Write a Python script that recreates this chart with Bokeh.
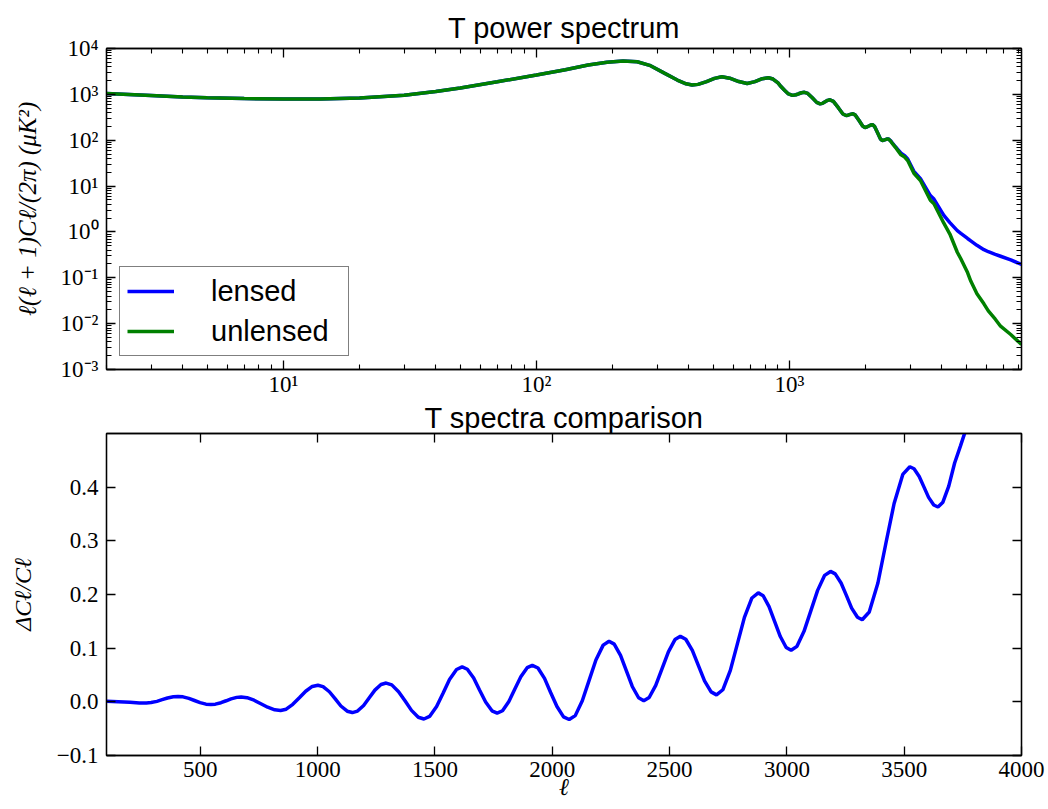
from bokeh.plotting import figure
from bokeh.models import (FixedTicker, CustomJSTickFormatter, LinearAxis, LogAxis,
                          Range1d, Legend, LegendItem)
from bokeh.layouts import column
from bokeh.embed import file_html
from bokeh.resources import INLINE

# ---------------- data ----------------
ell_top = [2, 3, 4, 5, 7, 10, 14, 20, 30, 40, 50, 70, 100, 130, 160, 190, 220, 250,
           280, 320, 360, 390, 412, 435, 470, 505, 540, 580, 630, 680, 730, 780, 825,
           860, 900, 925, 955, 990, 1027, 1060, 1086, 1115, 1145, 1180, 1230, 1280, 1320,
           1350, 1382, 1414, 1444, 1490, 1558, 1625, 1672, 1700, 1726, 1752, 1780, 1820,
           1882, 1944, 1985, 2020, 2056, 2092, 2127, 2165, 2225, 2285, 2322, 2356, 2390,
           2424, 2458, 2510, 2560, 2620, 2675, 2757, 2850, 2930, 3100, 3290, 3600, 3720,
           4070, 4300, 4600, 4750, 5050, 5200, 5500, 5860, 6100, 6500, 6820, 7480, 8250]
unlensed = [1050, 950, 880, 840, 810, 795, 795, 830, 960, 1150, 1380, 1880, 2650, 3450,
            4350, 5000, 5350, 5150, 4300, 2900, 2050, 1700, 1600, 1650, 1900, 2230, 2420,
            2250, 1900, 1720, 1900, 2200, 2300, 2160, 1780, 1480, 1230, 1020, 950, 980,
            1030, 1083, 1110, 1047, 840, 668, 620, 636, 687, 740, 760, 703, 512, 373, 345,
            351, 361, 371, 377, 352, 268, 204, 190, 194, 204, 214, 218, 201, 147, 107, 99,
            100, 103, 106, 107, 95, 82, 70, 60, 48, 43, 36, 19, 13.2, 4.9, 4.1, 1.55, 0.9,
            0.36, 0.26, 0.13, 0.085, 0.045, 0.027, 0.019, 0.0125, 0.0088, 0.0058, 0.0035]
lensed = [1050, 950, 880, 840, 810, 795, 795, 830, 960, 1150, 1380, 1880, 2650, 3450,
          4350, 5000, 5350, 5150, 4300, 2900, 2050, 1700, 1600, 1650, 1900, 2230, 2420,
          2250, 1900, 1720, 1900, 2200, 2300, 2160, 1780, 1480, 1230, 1020, 950, 980,
          1030, 1083, 1110, 1047, 840, 668, 620, 636, 687, 740, 760, 703, 512, 373, 345,
          351, 361, 371, 377, 352, 268, 204, 190, 194, 204, 214, 218, 201, 147, 107, 99,
          100, 103, 106, 107, 97, 84, 72, 63, 52, 46, 39, 21, 14.5, 6.2, 5.2, 2.3, 1.6,
          1.07, 0.93, 0.72, 0.64, 0.51, 0.41, 0.37, 0.325, 0.295, 0.245, 0.195]

ell_diff = [100, 150, 200, 240, 270, 290, 315, 337, 360, 385, 405, 426, 451, 475, 499,
            524, 545, 564, 588, 610, 631, 655, 674, 699, 729, 758, 787, 817, 842, 866, 894,
            922, 949, 977, 1001, 1023, 1050, 1075, 1099, 1126, 1148, 1170, 1196, 1220, 1244,
            1270, 1292, 1316, 1345, 1373, 1400, 1429, 1453, 1477, 1507, 1535, 1562, 1592,
            1616, 1638, 1665, 1690, 1716, 1743, 1765, 1788, 1815, 1840, 1866, 1893, 1915,
            1939, 1967, 1993, 2020, 2048, 2072, 2098, 2128, 2157, 2186, 2217, 2242, 2264,
            2291, 2316, 2341, 2368, 2390, 2413, 2441, 2468, 2495, 2523, 2546, 2569, 2597,
            2623, 2649, 2677, 2700, 2727, 2759, 2789, 2819, 2851, 2878, 2899, 2924, 2948,
            2972, 2997, 3018, 3043, 3073, 3102, 3131, 3161, 3186, 3206, 3231, 3254, 3276,
            3301, 3321, 3351, 3388, 3422, 3457, 3494, 3524, 3542, 3564, 3584, 3604, 3626,
            3644, 3665, 3690, 3715, 3740, 3765, 3790]
delta_cl = [0.001, 0.000, -0.001, -0.002, -0.002, -0.0014, 0.0009, 0.004, 0.0071, 0.0094,
            0.010, 0.0093, 0.0064, 0.0025, -0.0014, -0.0043, -0.005, -0.0043, -0.0016,
            0.002, 0.0056, 0.0083, 0.009, 0.0078, 0.003, -0.0035, -0.010, -0.0148, -0.016,
            -0.0137, -0.0047, 0.0075, 0.0197, 0.0287, 0.031, 0.0284, 0.0188, 0.0055,
            -0.0078, -0.0175, -0.020, -0.0172, -0.0068, 0.0075, 0.0218, 0.0323, 0.035,
            0.0316, 0.0189, 0.0015, -0.0159, -0.0287, -0.032, -0.0272, -0.0087, 0.0165,
            0.0417, 0.0602, 0.065, 0.0607, 0.0444, 0.022, -0.0004, -0.0167, -0.021,
            -0.0166, 0.0004, 0.0235, 0.0466, 0.0636, 0.068, 0.063, 0.0438, 0.0175, -0.0088,
            -0.028, -0.033, -0.0257, 0.002, 0.040, 0.078, 0.1057, 0.113, 0.1075, 0.0864,
            0.0575, 0.0286, 0.0076, 0.002, 0.008, 0.0308, 0.062, 0.0932, 0.116, 0.122,
            0.1166, 0.0958, 0.0675, 0.0392, 0.0185, 0.013, 0.0225, 0.0586, 0.108, 0.1574,
            0.1935, 0.203, 0.1977, 0.1773, 0.1495, 0.1217, 0.1013, 0.096, 0.1034, 0.1313,
            0.1695, 0.2077, 0.2357, 0.243, 0.2385, 0.2214, 0.198, 0.1746, 0.1575, 0.153,
            0.1673, 0.2214, 0.2955, 0.3696, 0.4238, 0.438, 0.4343, 0.42, 0.4005, 0.381,
            0.3668, 0.363, 0.372, 0.402, 0.445, 0.477, 0.51, 0.545]

top_x_major = [10, 100, 1000]
top_y_major = [1e-3, 1e-2, 1e-1, 1, 10, 100, 1e3, 1e4]
bot_x_major = [500, 1000, 1500, 2000, 2500, 3000, 3500, 4000]
bot_y_major = [-0.1, 0.0, 0.1, 0.2, 0.3, 0.4]

top_x_minor = [k * 10 ** e for e in range(0, 4) for k in range(2, 10)]
top_y_minor = [k * 10.0 ** e for e in range(-3, 4) for k in range(2, 10)]

BLUE = "#0000ff"
GREEN = "#008000"
SERIF = "Liberation Serif"
SANS = "Liberation Sans"

POW_CODE = """
const m = {"-":"\u207b","0":"\u2070","1":"\u00b9","2":"\u00b2","3":"\u00b3","4":"\u2074",
           "5":"\u2075","6":"\u2076","7":"\u2077","8":"\u2078","9":"\u2079"};
const e = Math.round(Math.log10(tick));
return "10" + String(e).split("").map(c => m[c]).join("");
"""
DEC_CODE = """
if (Math.abs(tick) < 1e-9) return "0.0";
return tick < 0 ? "\u2212" + Math.abs(tick).toFixed(1) : tick.toFixed(1);
"""


def style_axis(ax, labels=True):
    ax.major_tick_in = 9
    ax.major_tick_out = 0
    ax.minor_tick_in = 5
    ax.minor_tick_out = 0
    ax.axis_line_color = "black"
    ax.axis_line_width = 1.3
    ax.major_tick_line_color = "black"
    ax.major_tick_line_width = 1.3
    ax.minor_tick_line_color = "black"
    ax.minor_tick_line_width = 1.1
    if labels:
        ax.major_label_text_font = SERIF
        ax.major_label_text_font_size = "23px"
        ax.major_label_text_color = "black"
    else:
        ax.formatter = CustomJSTickFormatter(code='return "";')
        ax.major_label_text_font_size = "1px"
        ax.major_label_standoff = 0
    ax.axis_label_text_font = SERIF
    ax.axis_label_text_font_style = "italic"
    ax.axis_label_text_font_size = "24px"
    ax.axis_label_text_color = "black"


def style_title(t, standoff):
    t.text_font = SANS
    t.text_font_size = "29px"
    t.text_font_style = "normal"
    t.text_color = "black"
    t.align = "center"
    t.standoff = standoff


# ---------------- top: power spectrum ----------------
p1 = figure(frame_width=915, frame_height=321, x_axis_type="log", y_axis_type="log",
            x_range=Range1d(2, 8250), y_range=Range1d(1e-3, 1e4),
            output_backend="svg", toolbar_location=None,
            min_border_left=106, min_border_top=48, min_border_right=25, min_border_bottom=0,
            title="T power spectrum")
style_title(p1.title, 10)
p1.grid.visible = False
p1.outline_line_color = "black"
p1.outline_line_width = 1.3

xt1 = FixedTicker(ticks=top_x_major, minor_ticks=top_x_minor)
yt1 = FixedTicker(ticks=top_y_major, minor_ticks=top_y_minor)
p1.xaxis[0].ticker = xt1
p1.yaxis[0].ticker = yt1
p1.xaxis[0].formatter = CustomJSTickFormatter(code=POW_CODE)
p1.yaxis[0].formatter = CustomJSTickFormatter(code=POW_CODE)
style_axis(p1.xaxis[0])
style_axis(p1.yaxis[0])
p1.xaxis[0].major_label_standoff = 2
p1.yaxis[0].major_label_standoff = 8
p1.yaxis[0].axis_label = "\u2113(\u2113 + 1)C\u2113/(2\u03c0) (\u03bcK\u00b2)"
p1.yaxis[0].axis_label_text_font_size = "25px"
p1.yaxis[0].axis_label_standoff = 17

ax_top1 = LogAxis(ticker=xt1)
ax_right1 = LogAxis(ticker=yt1)
style_axis(ax_top1, labels=False)
style_axis(ax_right1, labels=False)
p1.add_layout(ax_top1, "above")
p1.add_layout(ax_right1, "right")

r_l = p1.line(ell_top, lensed, line_color=BLUE, line_width=3.5)
r_u = p1.line(ell_top, unlensed, line_color=GREEN, line_width=3.5)

legend = Legend(items=[LegendItem(label="lensed", renderers=[r_l]),
                       LegendItem(label="unlensed", renderers=[r_u])],
                location="bottom_left", margin=13, padding=7, spacing=6,
                glyph_width=47, glyph_height=34, label_standoff=37, label_width=130,
                label_text_font=SANS, label_text_font_size="29px",
                label_text_color="black",
                border_line_color="black", border_line_width=1.3,
                background_fill_color="white", background_fill_alpha=1.0)
p1.add_layout(legend)

# ---------------- bottom: comparison ----------------
p2 = figure(frame_width=915, frame_height=322,
            x_range=Range1d(100, 4000), y_range=Range1d(-0.1, 0.5),
            output_backend="svg", toolbar_location=None,
            min_border_left=106, min_border_top=0, min_border_right=25, min_border_bottom=0,
            title="T spectra comparison")
style_title(p2.title, 0)
p2.grid.visible = False
p2.outline_line_color = "black"
p2.outline_line_width = 1.3

xt2 = FixedTicker(ticks=bot_x_major, minor_ticks=[])
yt2 = FixedTicker(ticks=bot_y_major, minor_ticks=[])
p2.xaxis[0].ticker = xt2
p2.yaxis[0].ticker = yt2
p2.yaxis[0].formatter = CustomJSTickFormatter(code=DEC_CODE)
style_axis(p2.xaxis[0])
style_axis(p2.yaxis[0])
p2.xaxis[0].major_label_standoff = 6
p2.yaxis[0].major_label_standoff = 8
p2.xaxis[0].axis_label = "\u2113"
p2.xaxis[0].axis_label_standoff = -6
p2.yaxis[0].axis_label = "\u0394C\u2113/C\u2113"
p2.yaxis[0].axis_label_standoff = 18

ax_top2 = LinearAxis(ticker=xt2)
ax_right2 = LinearAxis(ticker=yt2)
style_axis(ax_top2, labels=False)
style_axis(ax_right2, labels=False)
p2.add_layout(ax_top2, "above")
p2.add_layout(ax_right2, "right")

p2.line(ell_diff, delta_cl, line_color=BLUE, line_width=3.5)

layout = column(p1, p2)
open("out.html", "w").write(file_html(layout, INLINE))
